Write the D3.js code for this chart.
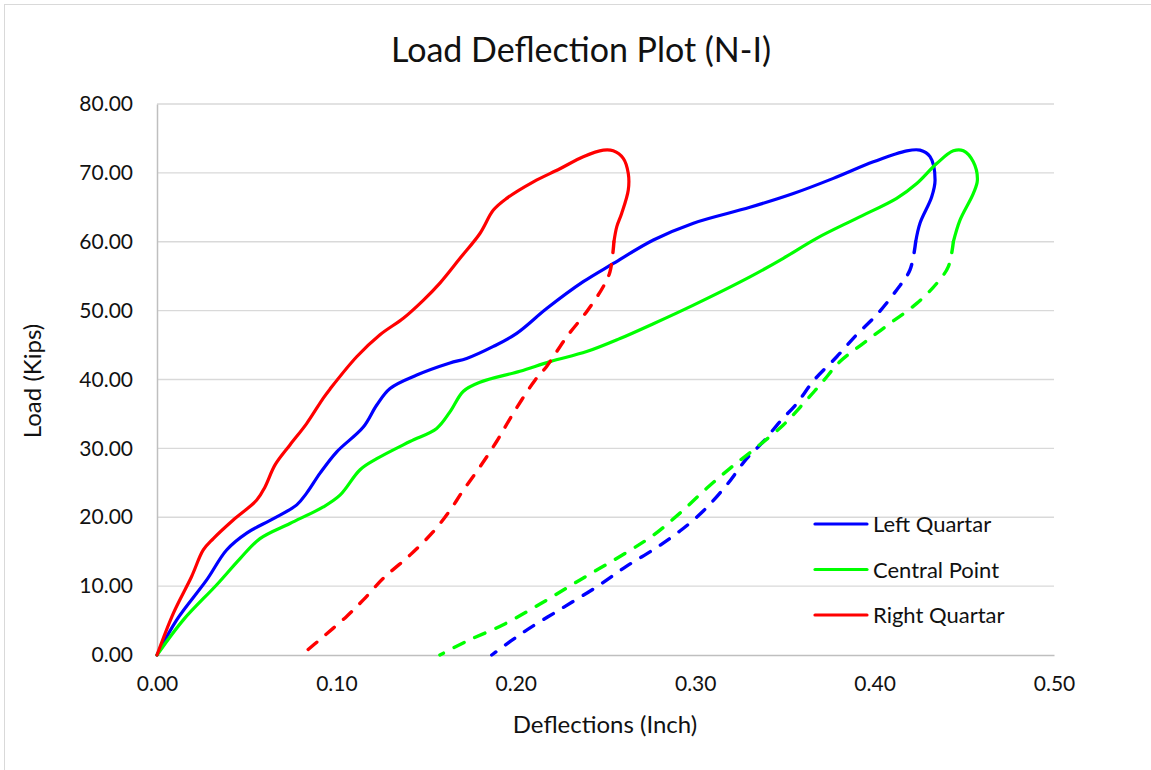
<!DOCTYPE html>
<html>
<head>
<meta charset="utf-8">
<script src="https://cdn.jsdelivr.net/npm/d3@7"></script>
<style>
  body { margin: 0; background: #fff; }
  text { font-family: Lato, "Open Sans", sans-serif; fill: #111; }
</style>
</head>
<body>
<svg class="chart" width="1151" height="770"></svg>
<script>
(function () {
    'use strict';

    // [deflection (inch), load (kips)]
    var leftLoading = [[0, 0], [0.011, 5.1], [0.0277, 10.9], [0.0388, 15.25], [0.05, 17.7], [0.0649, 19.8],
        [0.0779, 21.8], [0.0834, 23.5], [0.0909, 26.4], [0.1002, 29.5], [0.115, 33.1], [0.1225, 36.3],
        [0.1299, 38.7], [0.1448, 40.65], [0.1633, 42.4], [0.1726, 43.05], [0.1875, 44.8], [0.2005, 46.7],
        [0.2172, 50.3], [0.2376, 54.2], [0.2544, 56.85], [0.2767, 60.25], [0.299, 62.7], [0.3305, 65.0],
        [0.3547, 67.0], [0.377, 69.2], [0.3993, 71.6], [0.4179, 73.2], [0.4253, 73.3], [0.4309, 72.35],
        [0.4337, 68.95], [0.4318, 66.5], [0.4253, 62.7], [0.4229, 60.0]];
    var leftUnloading = [[0.4229, 60.0], [0.4197, 55.9], [0.4123, 53.0], [0.4012, 49.4], [0.39, 46.5],
        [0.3789, 43.3], [0.3659, 39.8], [0.3566, 36.5], [0.3473, 33.9], [0.338, 31.0], [0.3287, 28.5],
        [0.3176, 24.7], [0.3045, 20.9], [0.2915, 18.0], [0.2785, 15.6], [0.2618, 12.9], [0.2451, 9.9],
        [0.2246, 6.6], [0.2042, 3.3], [0.1866, 0]];
    var centralLoading = [[0, 0], [0.0147, 5.1], [0.0333, 10.2], [0.0463, 14.0], [0.0574, 16.9], [0.0741, 19.1],
        [0.0927, 21.5], [0.102, 23.2], [0.1132, 26.9], [0.1225, 28.5], [0.141, 31.0], [0.1559, 32.9],
        [0.1633, 35.3], [0.1708, 38.3], [0.18, 39.6], [0.2023, 41.2], [0.2191, 42.6], [0.2395, 44.05],
        [0.2581, 45.95], [0.2767, 48.1], [0.299, 50.8], [0.3305, 54.9], [0.3491, 57.6], [0.3677, 60.5],
        [0.39, 63.4], [0.4123, 66.3], [0.4235, 68.45], [0.4346, 71.35], [0.4439, 73.2], [0.4495, 73.2],
        [0.455, 71.6], [0.4573, 68.95], [0.455, 67.0], [0.4476, 63.15], [0.4439, 60.0]];
    var centralUnloading = [[0.4439, 60.0], [0.4411, 56.4], [0.4346, 53.95], [0.4235, 51.05], [0.4086, 48.15],
        [0.3937, 45.25], [0.3807, 42.6], [0.3705, 39.5], [0.3603, 36.5], [0.3491, 33.4], [0.333, 29.9],
        [0.3194, 27.1], [0.3064, 24.2], [0.2915, 20.6], [0.2767, 17.4], [0.2618, 14.9], [0.2358, 10.9],
        [0.2135, 7.4], [0.193, 4.4], [0.1726, 2.0], [0.1577, 0]];
    var rightLoading = [[0, 0], [0.0091, 6.05], [0.0193, 11.4], [0.0258, 15.25], [0.0314, 16.9], [0.0425, 19.6],
        [0.0556, 22.5], [0.0602, 24.4], [0.0658, 27.6], [0.0741, 30.5], [0.0834, 33.6], [0.0927, 37.3],
        [0.0964, 38.6], [0.1113, 43.3], [0.1243, 46.5], [0.1373, 48.9], [0.1484, 51.5], [0.1577, 54.0],
        [0.1689, 57.6], [0.18, 61.2], [0.1875, 64.6], [0.1949, 66.3], [0.2098, 68.7], [0.2246, 70.6],
        [0.2376, 72.35], [0.2488, 73.3], [0.2543, 73.2], [0.2599, 72.1], [0.2627, 69.9], [0.2627, 67.5],
        [0.259, 64.1], [0.2563, 62.2], [0.2547, 60.0]];
    var rightUnloading = [[0.2547, 60.0], [0.2525, 55.65], [0.2488, 53.5], [0.2395, 49.85], [0.2284, 46.2],
        [0.2172, 41.9], [0.2107, 39.9], [0.1986, 35.1], [0.1893, 31.0], [0.18, 27.3], [0.1708, 23.95],
        [0.1633, 21.0], [0.154, 17.9], [0.141, 14.5], [0.126, 11.1], [0.115, 8.0], [0.1057, 5.6],
        [0.0927, 2.66], [0.0806, 0]];

    var seriesNames = ['Left Quartar', 'Central Point', 'Right Quartar'];
    var seriesColors = ['#0000ff', '#00ff00', '#ff0000'];
    var xTicks = [0, 0.1, 0.2, 0.3, 0.4, 0.5];
    var yTicks = [0, 10, 20, 30, 40, 50, 60, 70, 80];

    var series = [
        {name: seriesNames[0], color: seriesColors[0], loading: leftLoading, unloading: leftUnloading},
        {name: seriesNames[1], color: seriesColors[1], loading: centralLoading, unloading: centralUnloading},
        {name: seriesNames[2], color: seriesColors[2], loading: rightLoading, unloading: rightUnloading}
    ];

    var svg = d3.select('.chart');

    // chart area border
    svg.append('rect')
        .attr('x', 4.5).attr('y', 4.5)
        .attr('width', 1160).attr('height', 780)
        .attr('fill', '#fff')
        .attr('stroke', '#d9d9d9');

    var x = d3.scaleLinear().domain([0, 0.5]).range([157, 1054]);
    var y = d3.scaleLinear().domain([0, 80]).range([655, 104]);

    // gridlines
    svg.append('g')
        .selectAll('line')
        .data(yTicks.slice(1))
        .enter().append('line')
        .attr('x1', x(0)).attr('x2', x(0.5))
        .attr('y1', function (d) { return y(d); })
        .attr('y2', function (d) { return y(d); })
        .attr('stroke', '#d9d9d9')
        .attr('stroke-width', 1.3);

    var yAxis = svg.append('g')
        .attr('transform', 'translate(' + x(0) + ',0)')
        .call(d3.axisLeft(y).tickValues(yTicks).tickFormat(d3.format('.2f')).tickSize(0).tickPadding(24));
    var xAxis = svg.append('g')
        .attr('transform', 'translate(0,' + y(0) + ')')
        .call(d3.axisBottom(x).tickValues(xTicks).tickFormat(d3.format('.2f')).tickSize(0).tickPadding(21));

    [xAxis, yAxis].forEach(function (g) {
        g.select('.domain').attr('stroke', '#bfbfbf').attr('stroke-width', 1.5);
        g.selectAll('text').style('font-size', '21px').style('font-family', 'Lato').attr('fill', '#111');
    });

    // curves
    var line = d3.line()
        .x(function (d) { return x(d[0]); })
        .y(function (d) { return y(d[1]); })
        .curve(d3.curveCatmullRom.alpha(0.5));

    var curves = svg.append('g');
    series.forEach(function (s) {
        curves.append('path')
            .attr('d', line(s.loading))
            .attr('fill', 'none')
            .attr('stroke', s.color)
            .attr('stroke-width', 3.2)
            .attr('stroke-linecap', 'round');
        curves.append('path')
            .attr('d', line(s.unloading))
            .attr('fill', 'none')
            .attr('stroke', s.color)
            .attr('stroke-width', 3.4)
            .attr('stroke-linecap', 'round')
            .attr('stroke-dasharray', '11,12');
    });

    // titles
    svg.append('text')
        .attr('x', 581).attr('y', 62)
        .attr('text-anchor', 'middle')
        .style('font-size', '34px')
        .text('Load Deflection Plot (N-I)');

    svg.append('text')
        .attr('x', 605).attr('y', 733)
        .attr('text-anchor', 'middle')
        .style('font-size', '24px')
        .text('Deflections (Inch)');

    svg.append('text')
        .attr('transform', 'translate(41,381) rotate(-90)')
        .attr('text-anchor', 'middle')
        .style('font-size', '24px')
        .text('Load (Kips)');

    // legend
    var legend = svg.append('g')
        .selectAll('g')
        .data(series)
        .enter().append('g')
        .attr('transform', function (d, i) { return 'translate(815,' + (524 + i * 45.5) + ')'; });
    legend.append('line')
        .attr('x1', 0).attr('x2', 52)
        .attr('stroke', function (d) { return d.color; })
        .attr('stroke-width', 3.2)
        .attr('stroke-linecap', 'round');
    legend.append('text')
        .attr('x', 58).attr('y', 8)
        .style('font-size', '22px')
        .text(function (d) { return d.name; });
}());
</script>
</body>
</html>
